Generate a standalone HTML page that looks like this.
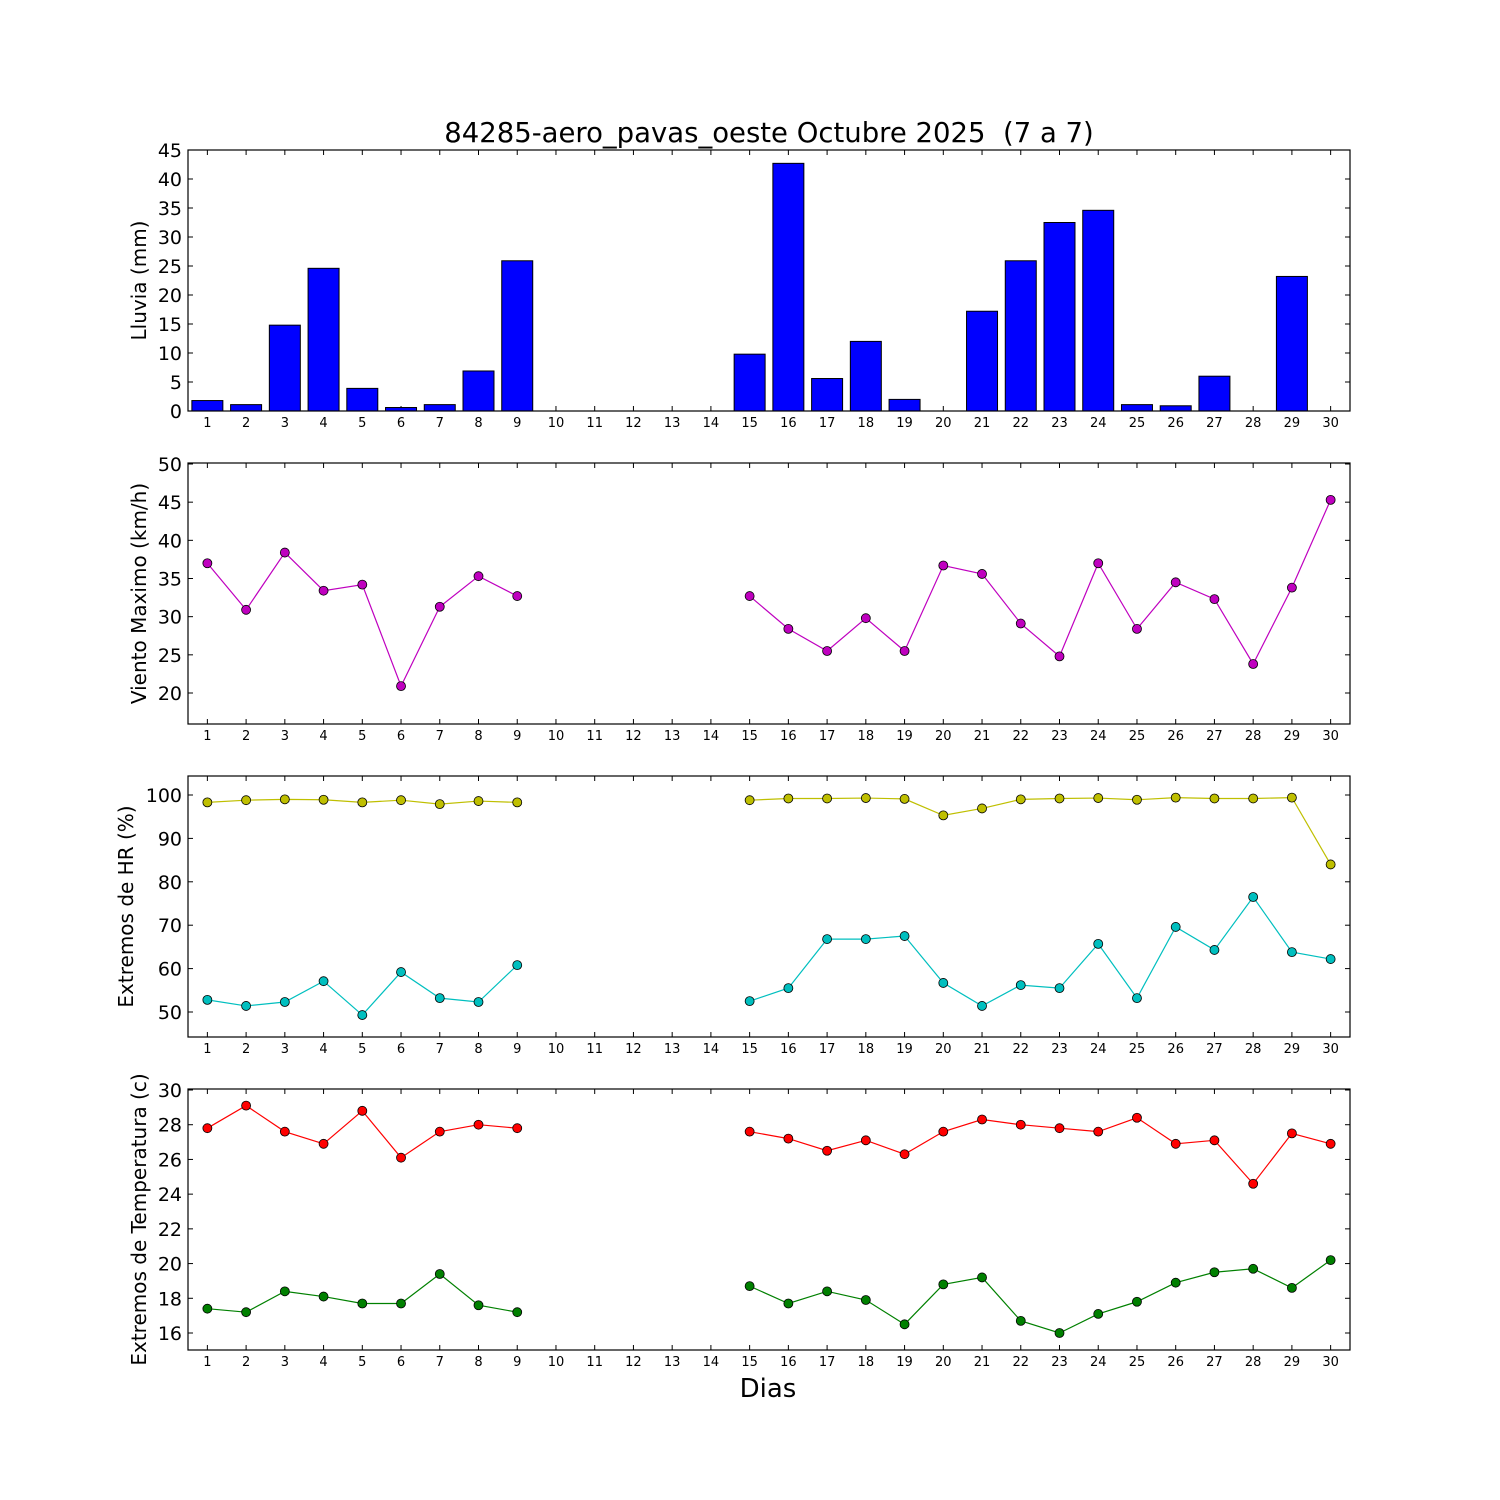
<!DOCTYPE html>
<html><head><meta charset="utf-8"><style>
body{margin:0;background:#fff;}
svg{display:block;font-family:"DejaVu Sans","Liberation Sans",sans-serif;}
</style></head><body>
<svg id="chart" width="1500" height="1500" viewBox="0 0 1500 1500">
<rect width="1500" height="1500" fill="#fff"/>
<text x="769" y="142" text-anchor="middle" font-size="27.5" style="white-space:pre">84285-aero_pavas_oeste Octubre 2025&#160; (7 a 7)</text>
<text x="768" y="1397" text-anchor="middle" font-size="26">Dias</text>
</svg>
<script>
const days = Array.from({length:30},(_,i)=>i+1);
const rain = [1.8,1.1,14.8,24.6,3.9,0.6,1.1,6.9,25.9,0,0,0,0,0,9.8,42.7,5.6,12.0,2.0,0,17.2,25.9,32.5,34.6,1.1,0.9,6.0,0,23.2,0];
const wind = [37.0,30.9,38.4,33.4,34.2,20.9,31.3,35.3,32.7,null,null,null,null,null,32.7,28.4,25.5,29.8,25.5,36.7,35.6,29.1,24.8,37.0,28.4,34.5,32.3,23.8,33.8,45.3];
const hrMax = [98.3,98.8,99.0,98.9,98.3,98.8,97.9,98.6,98.3,null,null,null,null,null,98.8,99.2,99.2,99.3,99.1,95.3,96.9,99.0,99.2,99.3,98.9,99.4,99.2,99.2,99.4,84.0];
const hrMin = [52.8,51.4,52.3,57.1,49.3,59.2,53.2,52.3,60.8,null,null,null,null,null,52.5,55.5,66.8,66.8,67.5,56.7,51.4,56.2,55.5,65.7,53.2,69.6,64.3,76.5,63.8,62.2];
const tMax = [27.8,29.1,27.6,26.9,28.8,26.1,27.6,28.0,27.8,null,null,null,null,null,27.6,27.2,26.5,27.1,26.3,27.6,28.3,28.0,27.8,27.6,28.4,26.9,27.1,24.6,27.5,26.9];
const tMin = [17.4,17.2,18.4,18.1,17.7,17.7,19.4,17.6,17.2,null,null,null,null,null,18.7,17.7,18.4,17.9,16.5,18.8,19.2,16.7,16.0,17.1,17.8,18.9,19.5,19.7,18.6,20.2];
const rainTicks = [0,5,10,15,20,25,30,35,40,45];
const windTicks = [20,25,30,35,40,45,50];
const hrTicks = [50,60,70,80,90,100];
const tTicks = [16,18,20,22,24,26,28,30];

const NS='http://www.w3.org/2000/svg';
const svg=document.getElementById('chart');
const X0=188,X1=1350;
const xs=d=>X0+(d-0.5)*(X1-X0)/30;
function el(tag,attrs,parent){const e=document.createElementNS(NS,tag);for(const k in attrs)e.setAttribute(k,attrs[k]);(parent||svg).appendChild(e);return e;}
function panel(top,bot,ymin,ymax,ticks,label,name){
  const g=el('g',{});
  
  
  const ys=v=>bot-(v-ymin)*(bot-top)/(ymax-ymin);
  days.forEach(d=>{
    const x=xs(d);
    el('line',{x1:x,x2:x,y1:bot,y2:bot-5,stroke:'#000'},g);
    el('line',{x1:x,x2:x,y1:top,y2:top+5,stroke:'#000'},g);
    const t=el('text',{x:x,y:bot+16,'text-anchor':'middle','font-size':13},g);
    t.textContent=d;
    
    
  });
  ticks.forEach(v=>{
    const y=ys(v);
    el('line',{x1:X0,x2:X0+5,y1:y,y2:y,stroke:'#000'},g);
    el('line',{x1:X1,x2:X1-5,y1:y,y2:y,stroke:'#000'},g);
    const t=el('text',{x:X0-6,y:y+7,'text-anchor':'end','font-size':19},g);
    t.textContent=v;
    
    
  });
  const l=el('text',{x:0,y:0,'text-anchor':'middle','font-size':20,transform:`translate(${name==='hr'?133:146},${(top+bot)/2}) rotate(-90)`},g);
  l.textContent=label;
  
  
  return {g,ys,top,bot};
}
function frame(p){el('rect',{x:X0,y:p.top,width:X1-X0,height:p.bot-p.top,fill:'none',stroke:'#000','stroke-width':1.2},p.g);}
function series(p,vals,color,name){
  let segs=[],cur=[];
  vals.forEach((v,i)=>{if(v==null){if(cur.length)segs.push(cur);cur=[];}else cur.push(xs(days[i])+','+p.ys(v));});
  if(cur.length)segs.push(cur);
  segs.forEach(s=>{const pl=el('polyline',{points:s.join(' '),fill:'none',stroke:color,'stroke-width':1.2},p.g);
    
    });
  vals.forEach((v,i)=>{if(v==null)return;
    const c=el('circle',{cx:xs(days[i]),cy:p.ys(v),r:4.5,fill:color,stroke:'#000','stroke-width':0.8},p.g);
    
    });
}
const p1=panel(150,411,0,45,rainTicks,'Lluvia (mm)','rain');
const bw=0.8*(X1-X0)/30;
rain.forEach((v,i)=>{
  const y=p1.ys(v);
  const r=el('rect',{x:xs(days[i])-bw/2,y:y,width:bw,height:p1.bot-y,fill:'#0000ff',stroke:'#000','stroke-width':1},p1.g);
  
  
});
frame(p1);
const wmin=20-(724-693)/(229/30), wmax=50+(464-463)/(229/30);
const p2=panel(463,724,wmin,wmax,windTicks,'Viento Maximo (km/h)','wind');
series(p2,wind,'#bf00bf','wind-max');frame(p2);
const hs=217/50;
const p3=panel(776,1037,50-(1037-1012)/hs,100+(795-776)/hs,hrTicks,'Extremos de HR (%)','hr');
series(p3,hrMax,'#bfbf00','hr-max');series(p3,hrMin,'#00bfbf','hr-min');frame(p3);
const ts=243/14;
const p4=panel(1089,1350,16-(1350-1333)/ts,30+(1090-1089)/ts,tTicks,'Extremos de Temperatura (c)','temp');
series(p4,tMax,'#ff0000','temp-max');series(p4,tMin,'#008000','temp-min');frame(p4);
</script>
</body></html>
